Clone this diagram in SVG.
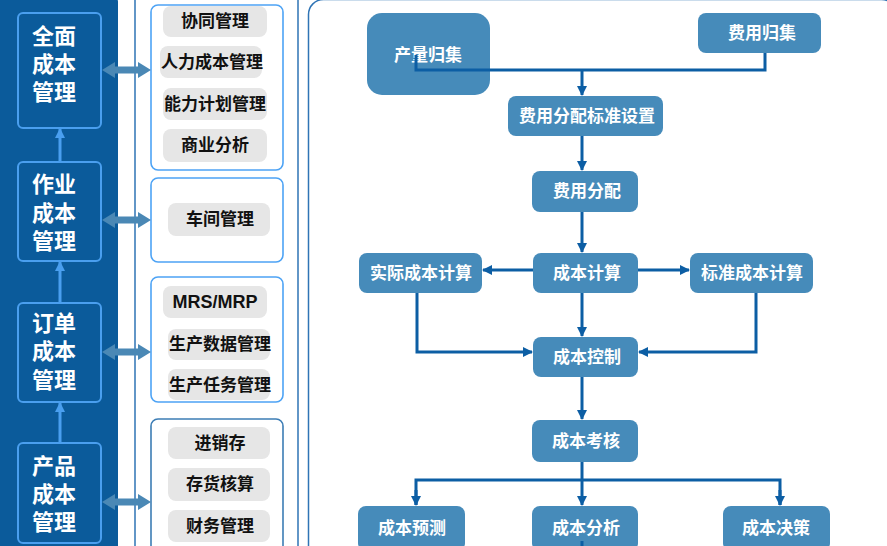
<svg xmlns="http://www.w3.org/2000/svg" xmlns:xlink="http://www.w3.org/1999/xlink" width="887" height="546" viewBox="0 0 887 546">
<style>
.lnode{fill:none;stroke:#4A9FEF;stroke-width:2}
.ltxt{font-family:"Noto Sans CJK SC","Liberation Sans",sans-serif;font-size:22px;font-weight:bold;fill:#fff;dominant-baseline:central}
.mbox{fill:#fff;stroke:#4DA3F5;stroke-width:1.6}
.mbox2{fill:#fff;stroke:#3C7DB5;stroke-width:1.6}
.pill{fill:#E6E6E6}
.ptxt{font-family:"Liberation Serif","Noto Sans CJK SC",serif;font-size:17px;font-weight:bold;fill:#111;text-anchor:middle;dominant-baseline:central}
.ptxt2{font-family:"Liberation Sans",Arial,sans-serif;font-size:18px;font-weight:bold;fill:#111;text-anchor:middle;dominant-baseline:central}
.fnode{fill:#468BBA}
.ftxt{font-family:"Liberation Serif","Noto Sans CJK SC",serif;font-size:17px;font-weight:bold;fill:#fff;text-anchor:middle;dominant-baseline:central}
.conn{fill:none;stroke:#0C5EA4;stroke-width:3}
.up{fill:none;stroke:#4A9FEF;stroke-width:3}
.dbl{fill:#4A88B5}
</style>
<defs>
<marker id="ah" viewBox="0 0 10 10" refX="9" refY="5" markerWidth="10" markerHeight="10" markerUnits="userSpaceOnUse" orient="auto">
<path d="M0,0 L10,5 L0,10 z" fill="#0C5EA4"/>
</marker>
<marker id="ahu" viewBox="0 0 10 10" refX="9" refY="5" markerWidth="10" markerHeight="11" markerUnits="userSpaceOnUse" orient="auto">
<path d="M0,0 L10,5 L0,10 z" fill="#4A9FEF"/>
</marker>
<path id="dblarrow" d="M102,0 L115,-8 L115,-3.5 L138,-3.5 L138,-8 L151,0 L138,8 L138,3.5 L115,3.5 L115,8 Z"/>
</defs>

<!-- background panels -->
<rect x="-20" y="-4" width="138" height="570" rx="6" fill="#0B5B9B"/>
<rect x="135" y="-20" width="163" height="600" rx="10" fill="#fff" stroke="#2F74B5" stroke-width="1.5"/>
<rect x="308.5" y="-0.5" width="588" height="580" rx="15" fill="#fff" stroke="#2F74B5" stroke-width="1.5"/>

<!-- left nodes -->
<g id="n-quanmian">
<rect class="lnode" x="18" y="13" width="83" height="115" rx="5"/>
<text class="ltxt"><tspan x="32" y="34">全面</tspan><tspan x="32" y="62">成本</tspan><tspan x="32" y="90">管理</tspan></text>
</g>
<g id="n-zuoye">
<rect class="lnode" x="18" y="162" width="83" height="99" rx="5"/>
<text class="ltxt"><tspan x="32" y="182">作业</tspan><tspan x="32" y="211">成本</tspan><tspan x="32" y="239">管理</tspan></text>
</g>
<g id="n-dingdan">
<rect class="lnode" x="18" y="303" width="83" height="99" rx="5"/>
<text class="ltxt"><tspan x="32" y="321">订单</tspan><tspan x="32" y="349">成本</tspan><tspan x="32" y="378">管理</tspan></text>
</g>
<g id="n-chanpin">
<rect class="lnode" x="18" y="443" width="83" height="100" rx="5"/>
<text class="ltxt"><tspan x="32" y="464">产品</tspan><tspan x="32" y="492">成本</tspan><tspan x="32" y="520">管理</tspan></text>
</g>

<!-- middle boxes -->
<g id="box-a">
<rect class="mbox" x="151" y="5" width="132" height="165" rx="7"/>
<rect class="pill" x="163" y="6" width="104" height="31" rx="8"/>
<text class="ptxt" x="215" y="21">协同管理</text>
<rect class="pill" x="160" y="46" width="102" height="32" rx="8"/>
<text class="ptxt" x="212" y="62">人力成本管理</text>
<rect class="pill" x="163" y="88" width="104" height="32" rx="8"/>
<text class="ptxt" x="215" y="104">能力计划管理</text>
<rect class="pill" x="163" y="129" width="104" height="33" rx="8"/>
<text class="ptxt" x="215" y="145">商业分析</text>
</g>
<g id="box-b">
<rect class="mbox" x="151" y="178" width="132" height="84" rx="7"/>
<rect class="pill" x="168" y="203" width="102" height="33" rx="8"/>
<text class="ptxt" x="220" y="219">车间管理</text>
</g>
<g id="box-c">
<rect class="mbox" x="151" y="277" width="132" height="125" rx="7"/>
<rect class="pill" x="163" y="286" width="104" height="32" rx="8"/>
<text class="ptxt2" x="215" y="302">MRS/MRP</text>
<rect class="pill" x="168" y="329" width="102" height="31" rx="8"/>
<text class="ptxt" x="220" y="344">生产数据管理</text>
<rect class="pill" x="168" y="369" width="102" height="31" rx="8"/>
<text class="ptxt" x="220" y="385">生产任务管理</text>
</g>
<g id="box-d">
<rect class="mbox2" x="151" y="419" width="132" height="150" rx="7"/>
<rect class="pill" x="168" y="427" width="102" height="32" rx="8"/>
<text class="ptxt" x="220" y="443">进销存</text>
<rect class="pill" x="168" y="468" width="102" height="33" rx="8"/>
<text class="ptxt" x="220" y="484">存货核算</text>
<rect class="pill" x="168" y="510" width="102" height="32" rx="8"/>
<text class="ptxt" x="220" y="526">财务管理</text>
</g>

<!-- flowchart nodes -->
<g id="f-chanliang">
<rect class="fnode" x="367" y="13" width="123" height="82" rx="15"/>
<text class="ftxt" x="428" y="55">产量归集</text>
</g>
<g id="f-feiyongguiji">
<rect class="fnode" x="698" y="13" width="123" height="40" rx="8"/>
<text class="ftxt" x="762" y="33">费用归集</text>
</g>
<g id="f-biaozhunshezhi">
<rect class="fnode" x="508" y="96" width="155" height="40" rx="8"/>
<text class="ftxt" x="587" y="116">费用分配标准设置</text>
</g>
<g id="f-feiyongfenpei">
<rect class="fnode" x="532" y="171" width="106" height="41" rx="8"/>
<text class="ftxt" x="587" y="191">费用分配</text>
</g>
<g id="f-chengbenjisuan">
<rect class="fnode" x="533" y="253" width="105" height="40" rx="8"/>
<text class="ftxt" x="587" y="273">成本计算</text>
</g>
<g id="f-shiji">
<rect class="fnode" x="359" y="253" width="123" height="40" rx="8"/>
<text class="ftxt" x="421" y="273">实际成本计算</text>
</g>
<g id="f-biaozhun">
<rect class="fnode" x="690" y="253" width="123" height="40" rx="8"/>
<text class="ftxt" x="752" y="273">标准成本计算</text>
</g>
<g id="f-kongzhi">
<rect class="fnode" x="533" y="337" width="105" height="40" rx="8"/>
<text class="ftxt" x="587" y="357">成本控制</text>
</g>
<g id="f-kaohe">
<rect class="fnode" x="532" y="420" width="106" height="42" rx="8"/>
<text class="ftxt" x="586" y="441">成本考核</text>
</g>
<g id="f-yuce">
<rect class="fnode" x="358" y="506" width="107" height="45" rx="8"/>
<text class="ftxt" x="412" y="528">成本预测</text>
</g>
<g id="f-fenxi">
<rect class="fnode" x="532" y="506" width="106" height="45" rx="8"/>
<text class="ftxt" x="586" y="528">成本分析</text>
</g>
<g id="f-juece">
<rect class="fnode" x="723" y="506" width="107" height="45" rx="8"/>
<text class="ftxt" x="776" y="528">成本决策</text>
</g>

<!-- connectors -->
<g id="connectors">
<use xlink:href="#dblarrow" class="dbl" transform="translate(0,70)"/>
<use xlink:href="#dblarrow" class="dbl" transform="translate(0,220)"/>
<use xlink:href="#dblarrow" class="dbl" transform="translate(0,352)"/>
<use xlink:href="#dblarrow" class="dbl" transform="translate(0,502)"/>
<line class="up" x1="60" y1="162" x2="60" y2="129" marker-end="url(#ahu)"/>
<line class="up" x1="60" y1="303" x2="60" y2="262" marker-end="url(#ahu)"/>
<line class="up" x1="60" y1="443" x2="60" y2="403" marker-end="url(#ahu)"/>

<path class="conn" d="M416,55 V70 H765 V53"/>
<line class="conn" x1="582" y1="70" x2="582" y2="95" marker-end="url(#ah)"/>
<line class="conn" x1="582" y1="136" x2="582" y2="170" marker-end="url(#ah)"/>
<line class="conn" x1="582" y1="212" x2="582" y2="252" marker-end="url(#ah)"/>
<line class="conn" x1="533" y1="270" x2="483" y2="270" marker-end="url(#ah)"/>
<line class="conn" x1="638" y1="270" x2="689" y2="270" marker-end="url(#ah)"/>
<line class="conn" x1="582" y1="293" x2="582" y2="336" marker-end="url(#ah)"/>
<path class="conn" d="M417,293 V352 H532" marker-end="url(#ah)"/>
<path class="conn" d="M756,293 V352 H639" marker-end="url(#ah)"/>
<line class="conn" x1="582" y1="377" x2="582" y2="419" marker-end="url(#ah)"/>
<line class="conn" x1="582" y1="462" x2="582" y2="505" marker-end="url(#ah)"/>
<path class="conn" d="M416,505 V480 H780 V505"/>
<line class="conn" x1="416" y1="490" x2="416" y2="505" marker-end="url(#ah)"/>
<line class="conn" x1="780" y1="490" x2="780" y2="505" marker-end="url(#ah)"/>
<line class="conn" x1="582" y1="541" x2="582" y2="550"/>
</g>
</svg>
